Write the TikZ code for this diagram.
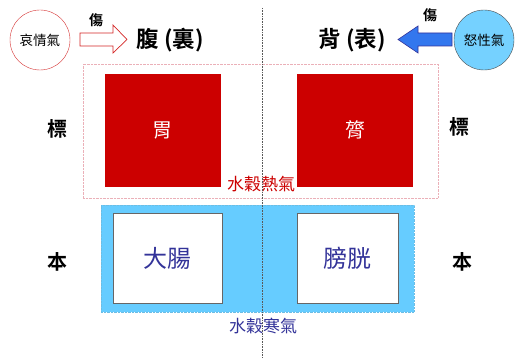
\documentclass[tikz,border=0pt]{standalone}
\usepackage{fontspec}
\newfontfamily\cjk{Noto Sans CJK TC}
\newfontfamily\cjkb{Noto Sans CJK TC Bold}
\definecolor{organred}{HTML}{CC0000}
\definecolor{coldblue}{HTML}{66CCFF}
\definecolor{navy}{HTML}{333399}
\definecolor{pinkdash}{HTML}{EBB0B8}
\definecolor{arrowblue}{HTML}{3377EE}
\begin{document}
\begin{tikzpicture}[x=1pt,y=-1pt,
  organ/.style={draw=organred,fill=organred,minimum width=115pt,minimum height=112pt,text=white,font=\cjk\fontsize{20}{20}\selectfont,inner sep=0pt},
  fu/.style={draw=gray!80!black,fill=white,minimum height=90pt,text=navy,font=\cjk\fontsize{24}{24}\selectfont,inner sep=0pt},
  side/.style={font=\cjkb\fontsize{20}{20}\selectfont,text=black},
  head/.style={font=\cjkb\fontsize{22.5}{22.5}\selectfont,text=black},
  qi/.style={circle,minimum size=60pt,inner sep=0pt,font=\cjk\fontsize{13.5}{13.5}\selectfont},
  hurt/.style={font=\cjkb\fontsize{14}{14}\selectfont},
  label/.style={font=\cjk\fontsize{17}{17}\selectfont}]
\useasboundingbox (0,0) rectangle (515,358);
% frames
\node (hot) [draw=pinkdash,densely dotted,minimum width=355pt,minimum height=134pt,inner sep=0pt] at (260.5,131) {};
\node (cold) [draw=coldblue!80!gray,densely dotted,fill=coldblue,minimum width=313pt,minimum height=107pt,inner sep=0pt] at (257.5,258.5) {};
% organs
\node (wei) [organ] at (162.5,130) {胃};
\node (lv) [organ] at (355,130) {膂};
\node (dc) [fu,minimum width=109pt] at (167.5,258) {大腸};
\node (pg) [fu,minimum width=101pt] at (347.5,258) {膀胱};
% labels
\node (hotl) [label,text=organred] at (261,184) {水穀熱氣};
\node (coldl) [label,text=navy] at (263,326) {水穀寒氣};
\node (b1) [side] at (58,129) {標};
\node (b2) [side] at (459,127) {標};
\node (m1) [side] at (58,262) {本};
\node (m2) [side] at (462,262) {本};
% headings
\node (fu) [head] at (170,40) {腹 (裏)};
\node (bei) [head] at (352,40) {背 (表)};
% qi circles
\node (ai) [qi,draw=organred!80,fill=white] at (40,40) {哀情氣};
\node (nu) [qi,draw=black!70,fill=coldblue!90!white] at (484,40) {怒性氣};
% arrows
\path[draw=organred!85,fill=white,line width=0.7pt]
  (80,33) -- (113,33) -- (113,25) -- (127,39.5) -- (113,53) -- (113,46) -- (80,46) -- cycle;
\path[draw=navy,fill=arrowblue,line width=0.6pt]
  (452,33) -- (418,33) -- (418,26) -- (398,39.5) -- (418,53) -- (418,46) -- (452,46) -- cycle;
\node (h1) [hurt] at (96,20) {傷};
\node (h2) [hurt] at (430,15) {傷};
% center divider
\coordinate (top) at (262,8);
\coordinate (bot) at (262,358);
\draw[gray!70!black,densely dotted,line width=0.6pt] (top) -- (bot);
\end{tikzpicture}
\end{document}
